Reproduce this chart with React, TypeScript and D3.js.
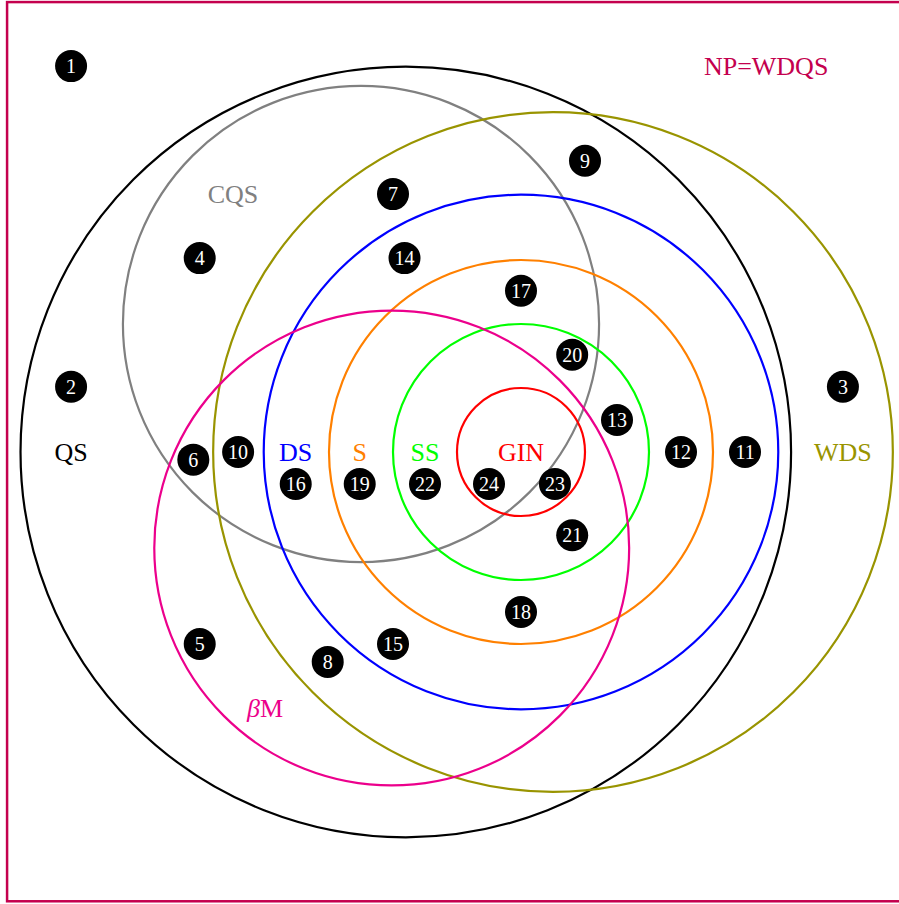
import React from "react";
import * as d3 from "d3";

// Sets in diagram units
const setNames = ["QS", "CQS", "WDS", "DS", "S", "SS", "GIN", "βM"];
const setCx = [-1.8, -2.5, 0.5, 0, 0, 0, 0, -2.02];
const setCy = [0, 2, 0, 0, 0, 0, 0, -1.5];
const setR = [6.02, 3.72, 5.31, 4.02, 3.0, 2.0, 1.0, 3.71];
const setColors = ["#000000", "#808080", "#999400", "#0000ff", "#ff8000", "#00ff00", "#ff0000", "#ec008c"];

// Numbered problems
const pointIds = [1, 2, 3, 4, 5, 6, 7, 8, 9, 10, 11, 12, 13, 14, 15, 16, 17, 18, 19, 20, 21, 22, 23, 24];
const pointX = [-7.03, -7.03, 5.03, -5.02, -5.02, -5.12, -2, -3.02, 1, -4.42, 3.5, 2.5, 1.5, -1.82, -2, -3.52, 0, 0, -2.52, 0.8, 0.8, -1.5, 0.53, -0.5];
const pointY = [6.03, 1.02, 1.02, 3.03, -3, -0.12, 4.03, -3.28, 4.55, 0, 0, 0, 0.5, 3.03, -3, -0.5, 2.52, -2.5, -0.5, 1.52, -1.3, -0.5, -0.5, -0.5];

// Labels
const labelTexts = ["NP=WDQS", "CQS", "QS", "DS", "S", "SS", "GIN", "WDS", "βM"];
const labelX = [3.83, -4.5, -7.03, -3.52, -2.52, -1.5, 0, 5.03, -4];
const labelY = [6.03, 4.03, 0, 0, 0, 0, 0, 0, -4];
const labelColors = ["#c4004e", "#808080", "#000000", "#0000ff", "#ff8000", "#00ff00", "#ff0000", "#999400", "#ec008c"];

const frameX = [-8.03, 6];
const frameY = [-7.02, 7.03];

export default function App() {
  const W = 899, H = 904;
  const unit = 64;
  const x = d3.scaleLinear().domain([0, 1]).range([521, 521 + unit]);
  const y = d3.scaleLinear().domain([0, 1]).range([452, 452 - unit]);
  const len = (v: number) => x(v) - x(0);
  const font = "'Liberation Serif', 'DejaVu Serif', serif";

  return (
    <svg width={W} height={H} style={{ position: "absolute", left: 0, top: 0, background: "#fff" }}>
      <rect
        x={x(frameX[0])}
        y={y(frameY[1])}
        width={x(frameX[1]) - x(frameX[0])}
        height={y(frameY[0]) - y(frameY[1])}
        fill="none"
        stroke="#c4004e"
        strokeWidth={2.5}
      />
      {setNames.map((n, i) => (
        <circle key={n} cx={x(setCx[i])} cy={y(setCy[i])} r={len(setR[i])} fill="none" stroke={setColors[i]} strokeWidth={2.2} />
      ))}
      {labelTexts.map((t, i) => (
        <text
          key={t}
          x={x(labelX[i])}
          y={y(labelY[i])}
          dy="0.35em"
          textAnchor="middle"
          fontFamily={font}
          fontSize={26}
          fill={labelColors[i]}
        >
          {t === "βM" ? (
            <>
              <tspan fontStyle="italic">β</tspan>M
            </>
          ) : (
            t
          )}
        </text>
      ))}
      {pointIds.map((id, i) => (
        <g key={id} transform={`translate(${x(pointX[i])},${y(pointY[i])})`}>
          <circle r={16} fill="#000" />
          <text dy="0.35em" textAnchor="middle" fontFamily={font} fontSize={20} fill="#fff">
            {id}
          </text>
        </g>
      ))}
    </svg>
  );
}
